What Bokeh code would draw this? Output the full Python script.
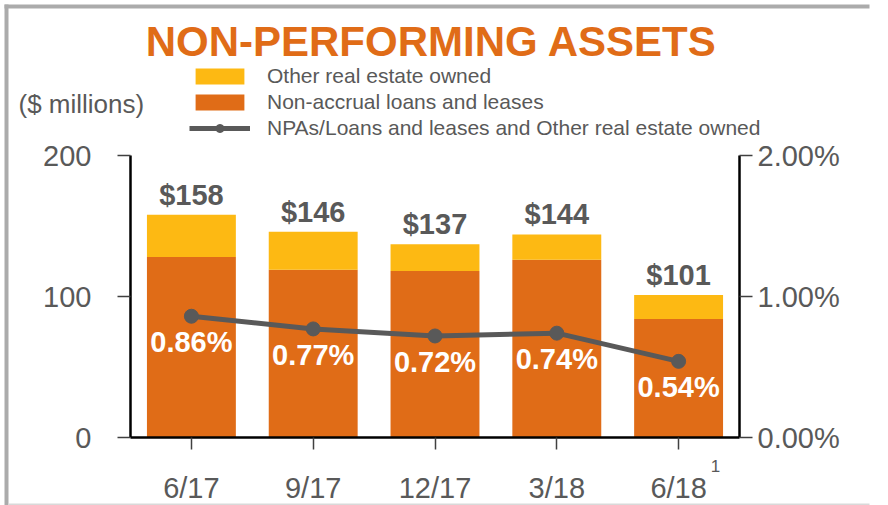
from bokeh.plotting import figure
from bokeh.models import (FactorRange, Range1d, LinearAxis, CategoricalAxis, FixedTicker,
                          PrintfTickFormatter, Legend, LegendItem, Label, BoxAnnotation,
                          ColumnDataSource)
from bokeh.core.properties import value
from bokeh.embed import file_html
from bokeh.resources import INLINE

# ---- data ----
categories = ["6/17", "9/17", "12/17", "3/18", "6/18"]
non_accrual = [128, 119, 118, 126, 84]
other_reo = [30, 27, 19, 18, 17]
npa_ratio = [0.86, 0.77, 0.72, 0.74, 0.54]
left_ticks = [0, 100, 200]
right_ticks = [0, 1, 2]

FONT = value("Liberation Sans")
GREY = "#595959"
ORANGE = "#E06C17"
YELLOW = "#FDB913"

# ---- layout constants (pixels) ----
W, H = 888, 505
CAT_PX = 121.8          # width of one category slot
LEFT_PX = 130           # page x of value axis
ZERO_PX = 437           # page y of value 0
TOP_PX = 155            # page y of value 200
PPU = (ZERO_PX - TOP_PX) / 200.0
pad = LEFT_PX / CAT_PX
frame_w = CAT_PX * (len(categories) + 2 * pad)

totals = [a + b for a, b in zip(non_accrual, other_reo)]
src = ColumnDataSource(dict(
    cat=categories, non_accrual=non_accrual, other_reo=other_reo,
    total=totals, total_lbl=[f"${t}" for t in totals],
    ratio=npa_ratio, ratio_lbl=[f"{r:.2f}%" for r in npa_ratio],
))

y_lo = -(H - ZERO_PX) / PPU
y_hi = 200 + TOP_PX / PPU
p = figure(width=W, height=H,
           x_range=FactorRange(factors=categories, range_padding=pad, range_padding_units="absolute"),
           y_range=Range1d(y_lo, y_hi), x_axis_type=None, y_axis_type=None,
           output_backend="svg", toolbar_location=None,
           min_border_left=0, min_border_right=int(round(W - frame_w)), min_border_top=0, min_border_bottom=0)
p.extra_y_ranges = {"pct": Range1d(y_lo / 100, y_hi / 100)}
p.outline_line_color = None
p.background_fill_color = "white"
p.border_fill_color = "white"

bars = p.vbar_stack(["non_accrual", "other_reo"], x="cat", width=0.73, source=src,
                    color=[ORANGE, YELLOW], line_color=None)

line_r = p.line(x="cat", y="ratio", source=src, y_range_name="pct", line_width=5, line_color=GREY)
dot_r = p.scatter(x="cat", y="ratio", source=src, y_range_name="pct", size=14,
                  fill_color=GREY, line_color=GREY)

p.text(x="cat", y="total", text="total_lbl", source=src, y_offset=-20,
       text_align="center", text_baseline="middle", text_font=FONT,
       text_font_style="bold", text_font_size="29px", text_color=GREY)
p.text(x="cat", y="ratio", text="ratio_lbl", source=src, y_range_name="pct", y_offset=26,
       text_align="center", text_baseline="middle", text_font=FONT,
       text_font_style="bold", text_font_size="29px", text_color="white")

# axes
def style_axis(ax):
    ax.axis_line_color = "black"
    ax.axis_line_width = 2.5
    ax.major_tick_line_color = "#404040"
    ax.major_tick_line_width = 1.5
    ax.major_tick_in = 0
    ax.major_tick_out = 13
    ax.minor_tick_line_color = None
    ax.major_label_text_font = "Liberation Sans"
    ax.major_label_text_font_size = "29px"
    ax.major_label_text_color = GREY

yax = LinearAxis(ticker=FixedTicker(ticks=left_ticks), fixed_location=0, bounds=(0, 200))
style_axis(yax)
yax.major_label_standoff = 26
p.add_layout(yax, "left")

rax = LinearAxis(y_range_name="pct", ticker=FixedTicker(ticks=right_ticks),
                 formatter=PrintfTickFormatter(format="%.2f%%"),
                 fixed_location=len(categories), bounds=(0, 2))
style_axis(rax)
rax.major_label_standoff = 5
p.add_layout(rax, "right")

xax = CategoricalAxis(fixed_location=0, bounds=(0, len(categories)))
style_axis(xax)
xax.major_tick_out = 12
xax.major_label_standoff = 22
p.add_layout(xax, "below")

# legend
legend = Legend(items=[
    LegendItem(label="Other real estate owned", renderers=[bars[1]]),
    LegendItem(label="Non-accrual loans and leases", renderers=[bars[0]]),
    LegendItem(label="NPAs/Loans and leases and Other real estate owned", renderers=[line_r, dot_r]),
], location=(189, H - 140), padding=0, margin=0, spacing=2, glyph_width=61, glyph_height=20,
   label_height=20, label_standoff=17, label_text_font="Liberation Sans",
   label_text_font_size="21px", label_text_color=GREY, border_line_color=None,
   background_fill_alpha=0)
p.add_layout(legend, "center")

# texts (screen units measured from frame bottom-left)
p.add_layout(Label(x=431, y=H - 41, x_units="screen", y_units="screen", text="NON-PERFORMING ASSETS",
                   text_align="center", text_baseline="middle", text_font="Liberation Sans",
                   text_font_style="bold", text_font_size="42px", text_color=ORANGE))
p.add_layout(Label(x=18, y=H - 103, x_units="screen", y_units="screen", text="($ millions)",
                   text_align="left", text_baseline="middle", text_font="Liberation Sans",
                   text_font_size="26px", text_color=GREY))
p.add_layout(Label(x=715, y=H - 465, x_units="screen", y_units="screen", text="1",
                   text_align="center", text_baseline="middle", text_font="Liberation Sans",
                   text_font_size="17px", text_color=GREY))

# slide frame
p.add_layout(BoxAnnotation(left=4, right=W, top=H - 4, bottom=H - 8, left_units="screen",
                           right_units="screen", top_units="screen", bottom_units="screen",
                           fill_color="#ababab", fill_alpha=1, line_color=None))
p.add_layout(BoxAnnotation(left=4, right=8, top=H - 4, bottom=0, left_units="screen",
                           right_units="screen", top_units="screen", bottom_units="screen",
                           fill_color="#ababab", fill_alpha=1, line_color=None))
p.add_layout(BoxAnnotation(left=8, right=W, top=2, bottom=0, left_units="screen",
                           right_units="screen", top_units="screen", bottom_units="screen",
                           fill_color="#d9d9d9", fill_alpha=1, line_color=None))

open("out.html", "w").write(file_html(p, INLINE))
